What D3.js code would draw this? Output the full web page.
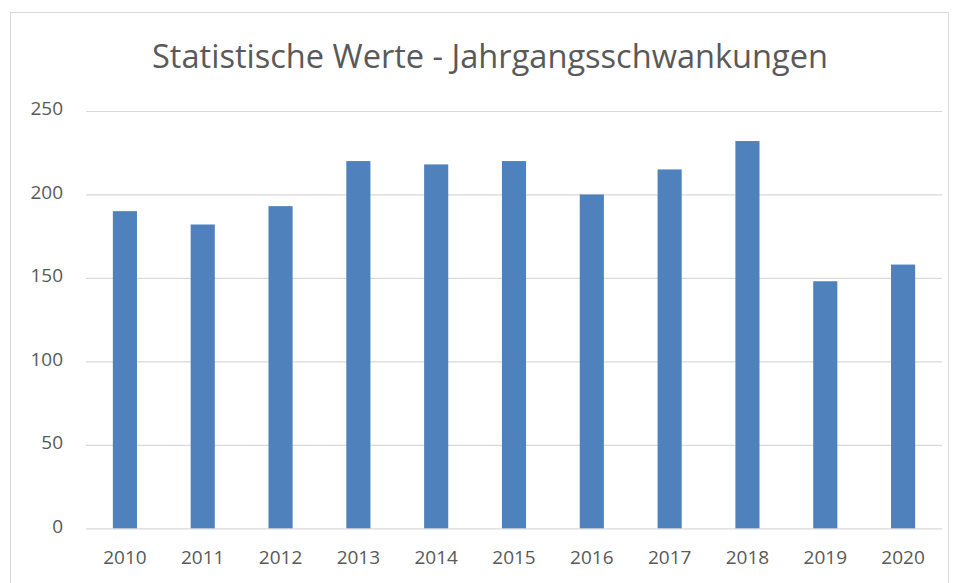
<!DOCTYPE html>
<html>
<head>
<meta charset="utf-8">
<script src="https://cdn.jsdelivr.net/npm/d3@7"></script>
<style>
	body { margin: 0; background: #fff; }
	text { font-family: "Open Sans", "Liberation Sans", sans-serif; fill: #595959; }
</style>
</head>
<body>
<div class="chart"></div>
<script>
var w = 957, h = 583;

// data
var years = ['2010', '2011', '2012', '2013', '2014', '2015', '2016', '2017', '2018', '2019', '2020'];
var values = [190, 182, 193, 220, 218, 220, 200, 215, 232, 148, 158];
var yTicks = [0, 50, 100, 150, 200, 250];
var title = 'Statistische Werte - Jahrgangsschwankungen';

// plot area (not "top" - that one belongs to window)
var plotLeft = 86, plotRight = 942, plotTop = 111, plotBottom = 528.3;

var svg = d3.select('.chart').append('svg')
			.attr('width', w)
			.attr('height', h);

// chart area frame
svg.append('rect')
	.attr('x', 10.5).attr('y', 12.5)
	.attr('width', 938).attr('height', 600)
	.attr('fill', '#fff')
	.attr('stroke', '#d9d9d9')
	.attr('stroke-width', 1);

var x = d3.scaleBand()
			.domain(years)
			.range([plotLeft, plotRight])
			.paddingInner(0.69)
			.paddingOuter(0.345);

var y = d3.scaleLinear()
			.domain([0, 250])
			.range([plotBottom, plotTop]);

// gridlines + y labels
var yAxis = svg.append('g')
			.attr('transform', 'translate(' + plotLeft + ',0)')
			.call(d3.axisLeft(y).tickValues(yTicks).tickSize(-(plotRight - plotLeft)).tickPadding(23))
yAxis.select('.domain').remove();
yAxis.selectAll('line').attr('stroke', '#d9d9d9').attr('stroke-width', 1.2);
yAxis.selectAll('text').attr('font-size', 19).attr('fill', '#595959').attr('dy', '0.2em');

// bars
svg.selectAll('rect.bar')
		.data(values)
	.enter()
	.append('rect')
		.attr('class', 'bar')
		.attr('x', function(d, i) { return x(years[i]); })
		.attr('y', function(d) { return y(d); })
		.attr('width', x.bandwidth())
		.attr('height', function(d) { return y(0) - y(d); })
		.attr('fill', '#4f81bd');

// x labels
var xAxis = svg.append('g')
			.attr('transform', 'translate(0,' + plotBottom + ')')
			.call(d3.axisBottom(x).tickSize(0).tickPadding(22));
xAxis.select('.domain').remove();
xAxis.selectAll('text').attr('font-size', 19).attr('fill', '#595959');

svg.append('text')
	.attr('x', 490).attr('y', 67.5)
	.attr('text-anchor', 'middle')
	.attr('font-size', 33)
	.attr('textLength', 676)
	.attr('lengthAdjust', 'spacingAndGlyphs')
	.text(title);
</script>
</body>
</html>
